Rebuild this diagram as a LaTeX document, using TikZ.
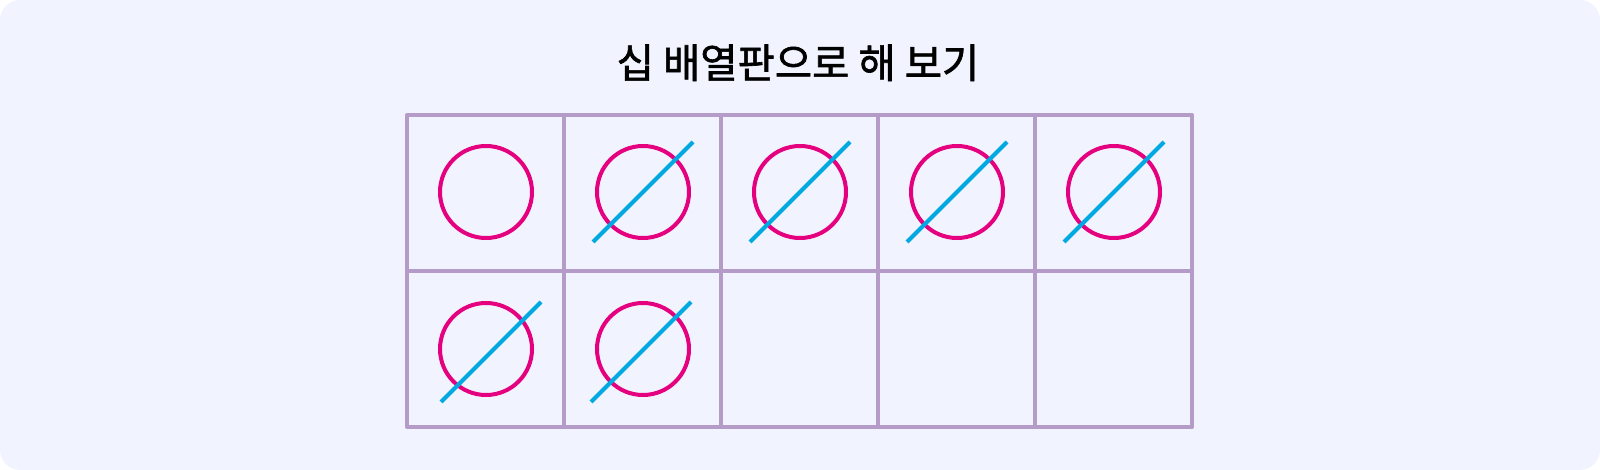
\documentclass[tikz,border=0pt]{standalone}
\usepackage{fontspec}
\usetikzlibrary{calc}
\newfontfamily\kr{Noto Sans CJK KR}[FakeBold=1.6]
\definecolor{bgc}{HTML}{F1F4FE}
\definecolor{gridc}{HTML}{B49BC8}
\definecolor{circc}{HTML}{E5007F}
\definecolor{slashc}{HTML}{00A9E2}
\tikzset{
  gridline/.style={draw=gridc, line width=4pt, line cap=round, line join=round},
  ring/.style={circle, draw=circc, line width=4pt, minimum size=92pt, inner sep=0pt},
  slash/.style={draw=slashc, line width=4pt},
}
\begin{document}
\begin{tikzpicture}[x=1pt,y=-1pt]
\useasboundingbox (0,0) rectangle (1600,470);
\fill[bgc, rounded corners=20pt] (0,0) rectangle (1600,470);
\node[font=\kr\fontsize{40.5}{48}\selectfont, anchor=base] (title) at (798,78) {십 배열판으로 해 보기};
% grid
\draw[gridline] (407,115) rectangle (1192,427);
\draw[gridline] (407,271) -- (1192,271);
\foreach \x in {564,721,878,1035} \draw[gridline] (\x,115) -- (\x,427);
% circles
\node[ring] (c1) at (486,192) {};
\foreach \i/\cx/\cy/\dx/\dy in {2/643/192/0/0, 3/800/192/0/0, 4/957/192/0/0, 5/1114/192/0/0, 6/486/349/5/3, 7/643/349/-2/3} {
  \node[ring] (c\i) at (\cx,\cy) {};
  \coordinate (s\i a) at ($(c\i)+(-50+\dx,50+\dy)$);
  \coordinate (s\i b) at ($(c\i)+(50+\dx,-50+\dy)$);
  \draw[slash] (s\i a) -- (s\i b);
}
\end{tikzpicture}
\end{document}
